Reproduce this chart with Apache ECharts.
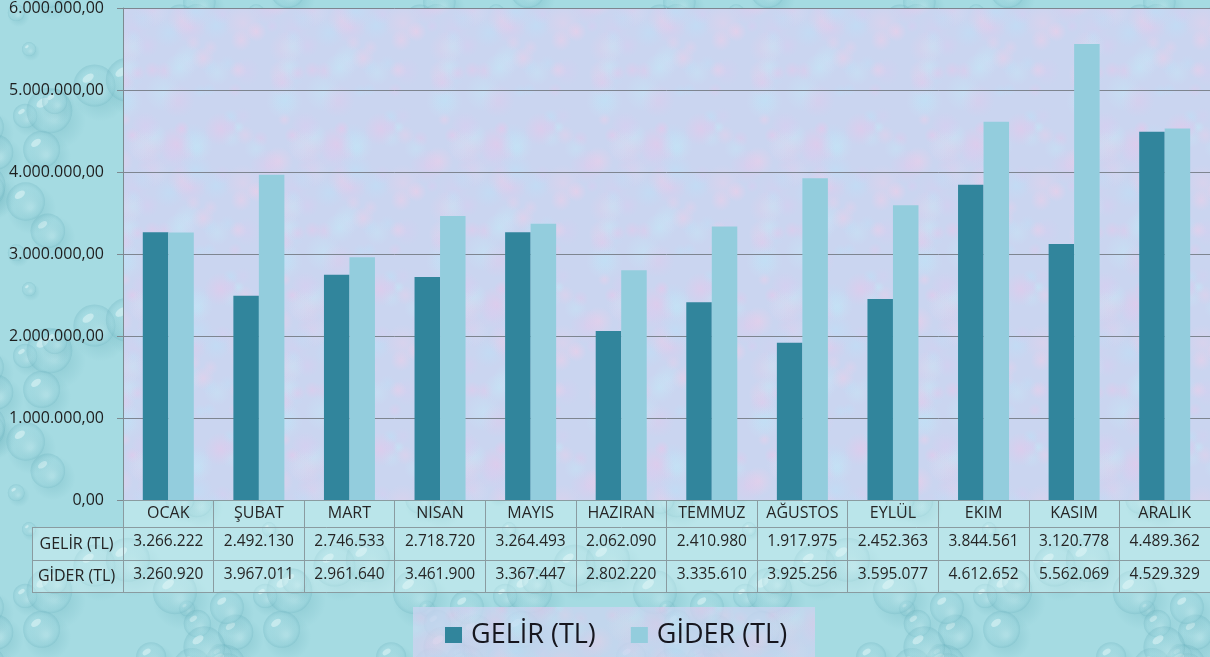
<!DOCTYPE html>
<html>
<head>
<meta charset="utf-8">
<script src="https://cdn.jsdelivr.net/npm/echarts@6/dist/echarts.min.js"></script>
<style>
  html, body { margin: 0; padding: 0; background: #a6dce3; }
  #chart { width: 1210px; height: 657px; }
</style>
</head>
<body>
<div id="chart"></div>
<script>
// Monthly income / expense figures (TL)
const months = ['OCAK', 'ŞUBAT', 'MART', 'NISAN', 'MAYIS', 'HAZIRAN', 'TEMMUZ', 'AĞUSTOS', 'EYLÜL', 'EKIM', 'KASIM', 'ARALIK'];
const gelir = [3266222, 2492130, 2746533, 2718720, 3264493, 2062090, 2410980, 1917975, 2452363, 3844561, 3120778, 4489362];
const gider = [3260920, 3967011, 2961640, 3461900, 3367447, 2802220, 3335610, 3925256, 3595077, 4612652, 5562069, 4529329];
const seriesNames = ['GELİR (TL)', 'GİDER (TL)'];
const yMin = 0;
const yMax = 6000000;
const yStep = 1000000;

// Turkish number formatting: dot thousands separator, comma decimals
function trThousands(n) {
  return String(n).replace(/\B(?=(\d{3})+(?!\d))/g, '.');
}
function trDecimal(n) {
  return trThousands(n) + ',00';
}

// Layout constants
const W = 1210, H = 657;
const GRID_LEFT = 123, GRID_TOP = 8, GRID_RIGHT_EDGE = 1213, AXIS_Y = 500;
const ROW1 = 527, ROW2 = 560, ROW3 = 592, LABEL_COL = 32;
const FONT = 'Open Sans, Lato, sans-serif';
const COL_GELIR = '#31859c';
const COL_GIDER = '#93cddd';
const LINE = '#8a9ba0';

// deterministic hash used for texture placement
function hash(i, k) {
  const s = Math.sin(i * 127.1 + k * 311.7) * 43758.5453;
  return s - Math.floor(s);
}

// Water-drop texture tile for the page background
function makeWaterTile() {
  const S = 240;
  const c = document.createElement('canvas');
  c.width = S; c.height = S;
  const g = c.getContext('2d');
  g.fillStyle = '#a5dbe2';
  g.fillRect(0, 0, S, S);
  const offs = [-S, 0, S];
  for (let i = 0; i < 26; i++) {
    const x0 = hash(i, 1) * S, y0 = hash(i, 2) * S, r = 7 + hash(i, 3) * 16;
    offs.forEach(ox => offs.forEach(oy => {
      const x = x0 + ox, y = y0 + oy;
      if (x + r * 1.6 < 0 || x - r * 1.6 > S || y + r * 1.6 < 0 || y - r * 1.6 > S) return;
      // soft shadow below-right
      const sh = g.createRadialGradient(x + r * 0.3, y + r * 0.4, r * 0.5, x + r * 0.3, y + r * 0.4, r * 1.3);
      sh.addColorStop(0, 'rgba(80,160,172,0.18)');
      sh.addColorStop(1, 'rgba(80,160,172,0)');
      g.fillStyle = sh;
      g.beginPath(); g.arc(x + r * 0.3, y + r * 0.4, r * 1.3, 0, Math.PI * 2); g.fill();
      // drop body
      const body = g.createRadialGradient(x + r * 0.25, y + r * 0.3, r * 0.1, x, y, r);
      body.addColorStop(0, 'rgba(205,240,244,0.45)');
      body.addColorStop(0.75, 'rgba(165,220,228,0.25)');
      body.addColorStop(1, 'rgba(110,180,192,0.35)');
      g.fillStyle = body;
      g.beginPath(); g.arc(x, y, r, 0, Math.PI * 2); g.fill();
      // faint highlight
      g.fillStyle = 'rgba(240,252,253,0.45)';
      g.beginPath(); g.ellipse(x - r * 0.3, y - r * 0.35, r * 0.3, r * 0.17, -0.6, 0, Math.PI * 2); g.fill();
    }));
  }
  return c;
}

// Mottled lavender texture tile for the plot area and legend box
function makePlotTile() {
  const S = 160;
  const c = document.createElement('canvas');
  c.width = S; c.height = S;
  const g = c.getContext('2d');
  g.fillStyle = '#cad5f0';
  g.fillRect(0, 0, S, S);
  const cols = ['232,198,234', '190,222,246', '214,206,240', '238,206,232', '196,230,246'];
  const offs = [-S, 0, S];
  for (let i = 0; i < 70; i++) {
    const x0 = hash(i, 5) * S, y0 = hash(i, 6) * S, r = 5 + hash(i, 7) * 14;
    const col = cols[i % cols.length];
    const a = 0.35 + hash(i, 8) * 0.3;
    offs.forEach(ox => offs.forEach(oy => {
      const x = x0 + ox, y = y0 + oy;
      if (x + r < 0 || x - r > S || y + r < 0 || y - r > S) return;
      const rg = g.createRadialGradient(x, y, 0, x, y, r);
      rg.addColorStop(0, 'rgba(' + col + ',' + a + ')');
      rg.addColorStop(1, 'rgba(' + col + ',0)');
      g.fillStyle = rg;
      g.beginPath(); g.arc(x, y, r, 0, Math.PI * 2); g.fill();
    }));
  }
  return c;
}

const waterPattern = { image: makeWaterTile(), repeat: 'repeat' };
const plotPattern = { image: makePlotTile(), repeat: 'repeat' };

// Data-table frame (cells behind the axis labels)
const hLine = (x1, y, x2) => ({
  type: 'line', z: -1, silent: true,
  shape: { x1: x1, y1: y + 0.5, x2: x2, y2: y + 0.5 },
  style: { stroke: LINE, lineWidth: 1 }
});
const rowHeader = (text, yTop, yBottom) => ({
  type: 'text', silent: true,
  x: (LABEL_COL + GRID_LEFT) / 2 - 1, y: (yTop + yBottom) / 2 + 0.5,
  style: { text: text, fill: '#232323', font: '16px ' + FONT, align: 'center', verticalAlign: 'middle' }
});
const graphics = [
  { type: 'rect', z: -10, silent: true, shape: { x: 0, y: 0, width: W, height: H }, style: { fill: waterPattern } },
  { type: 'rect', z: -9, silent: true, shape: { x: GRID_LEFT, y: GRID_TOP, width: GRID_RIGHT_EDGE - GRID_LEFT, height: AXIS_Y - GRID_TOP }, style: { fill: plotPattern } },
  // table cell wash
  { type: 'rect', z: -8, silent: true, shape: { x: GRID_LEFT, y: AXIS_Y, width: GRID_RIGHT_EDGE - GRID_LEFT, height: ROW1 - AXIS_Y }, style: { fill: 'rgba(225,248,250,0.35)' } },
  { type: 'rect', z: -8, silent: true, shape: { x: LABEL_COL, y: ROW1, width: GRID_RIGHT_EDGE - LABEL_COL, height: ROW3 - ROW1 }, style: { fill: 'rgba(225,248,250,0.35)' } },
  // legend box
  { type: 'rect', z: -8, silent: true, shape: { x: 413, y: 607, width: 402, height: 60 }, style: { fill: plotPattern, opacity: 0.8 } },
  hLine(LABEL_COL, ROW1, GRID_RIGHT_EDGE),
  hLine(LABEL_COL, ROW2, GRID_RIGHT_EDGE),
  hLine(LABEL_COL, ROW3, GRID_RIGHT_EDGE),
  { type: 'line', z: -1, silent: true, shape: { x1: LABEL_COL + 0.5, y1: ROW1, x2: LABEL_COL + 0.5, y2: ROW3 }, style: { stroke: LINE, lineWidth: 1 } },
  rowHeader(seriesNames[0], ROW1, ROW2),
  rowHeader(seriesNames[1], ROW2, ROW3)
];

const chart = echarts.init(document.getElementById('chart'), null, { renderer: 'canvas' });

const tableAxis = (values, offset, margin) => ({
  type: 'category',
  position: 'bottom',
  gridIndex: 0,
  offset: offset,
  data: values.map(trThousands),
  axisLine: { show: false },
  axisTick: { show: false },
  splitLine: { show: false },
  axisLabel: { interval: 0, margin: margin, fontFamily: FONT, fontSize: 15.5, color: '#262626', hideOverlap: false }
});

chart.setOption({
  animation: false,
  graphic: graphics,
  grid: {
    left: GRID_LEFT,
    top: GRID_TOP,
    right: W - GRID_RIGHT_EDGE,
    bottom: H - AXIS_Y,
    containLabel: false
  },
  legend: {
    data: seriesNames,
    left: 445,
    top: 619,
    padding: 0,
    icon: 'rect',
    itemWidth: 17,
    itemHeight: 16,
    itemGap: 35,
    selectedMode: false,
    textStyle: { fontFamily: FONT, fontSize: 27, color: '#16161e', lineHeight: 32, padding: [0, 0, 0, 4] }
  },
  xAxis: [
    {
      type: 'category',
      data: months,
      boundaryGap: true,
      axisLine: { show: true, lineStyle: { color: LINE, width: 1 } },
      axisTick: { show: true, length: ROW3 - AXIS_Y, lineStyle: { color: LINE, width: 1 } },
      axisLabel: { interval: 0, margin: 5, fontFamily: FONT, fontSize: 16, color: '#262626' },
      splitLine: { show: false }
    },
    tableAxis(gelir, ROW1 - AXIS_Y, 7),
    tableAxis(gider, ROW2 - AXIS_Y, 7)
  ],
  yAxis: {
    type: 'value',
    min: yMin,
    max: yMax,
    interval: yStep,
    axisLine: { show: true, lineStyle: { color: '#7d8a90', width: 1 } },
    axisTick: { show: true, length: 6, lineStyle: { color: '#7d8a90' } },
    splitLine: { show: true, lineStyle: { color: '#7e8590', width: 1 } },
    axisLabel: { margin: 19, fontFamily: FONT, fontSize: 16, color: '#1e1e1e', formatter: trDecimal }
  },
  series: [
    {
      name: seriesNames[0],
      type: 'bar',
      xAxisIndex: 0,
      data: gelir,
      barWidth: 25.5,
      barGap: '0%',
      itemStyle: { color: COL_GELIR }
    },
    {
      name: seriesNames[1],
      type: 'bar',
      xAxisIndex: 0,
      data: gider,
      barWidth: 25.5,
      barGap: '0%',
      itemStyle: { color: COL_GIDER }
    }
  ]
});
</script>
</body>
</html>
